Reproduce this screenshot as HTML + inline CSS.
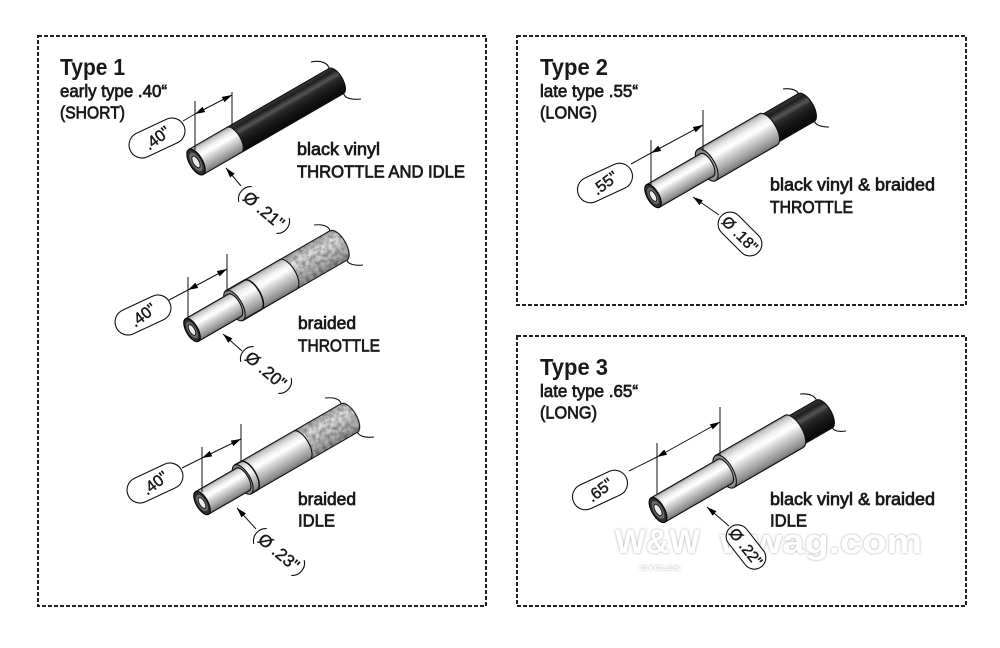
<!DOCTYPE html>
<html><head><meta charset="utf-8"><style>
html,body{margin:0;padding:0;background:#fff;}
svg{display:block;}
text{font-family:"Liberation Sans",sans-serif;fill:#1a1a1a;}
</style></head><body>
<svg width="1000" height="648" viewBox="0 0 1000 648" xmlns="http://www.w3.org/2000/svg">
<defs>
 <linearGradient id="sv" x1="0" y1="0" x2="0" y2="1">
  <stop offset="0" stop-color="#8c8c8c"/><stop offset="0.08" stop-color="#c8c8c8"/>
  <stop offset="0.25" stop-color="#f2f2f2"/><stop offset="0.38" stop-color="#ffffff"/>
  <stop offset="0.55" stop-color="#d6d6d6"/><stop offset="0.78" stop-color="#a8a8a8"/>
  <stop offset="0.92" stop-color="#8a8a8a"/><stop offset="1" stop-color="#666"/>
 </linearGradient>
 <linearGradient id="bk" x1="0" y1="0" x2="0" y2="1">
  <stop offset="0" stop-color="#3a3a3a"/><stop offset="0.15" stop-color="#1e1e1e"/>
  <stop offset="0.32" stop-color="#555"/><stop offset="0.45" stop-color="#2a2a2a"/>
  <stop offset="0.7" stop-color="#151515"/><stop offset="1" stop-color="#080808"/>
 </linearGradient>
 <linearGradient id="br" x1="0" y1="0" x2="0" y2="1">
  <stop offset="0" stop-color="#a0a0a0"/><stop offset="0.25" stop-color="#e4e4e4"/>
  <stop offset="0.5" stop-color="#d0d0d0"/><stop offset="0.8" stop-color="#aaaaaa"/>
  <stop offset="1" stop-color="#888"/>
 </linearGradient>
 <linearGradient id="fc" x1="0" y1="0" x2="0" y2="1">
  <stop offset="0" stop-color="#7a7a7a"/><stop offset="0.45" stop-color="#b4b4b4"/>
  <stop offset="1" stop-color="#8a8a8a"/>
 </linearGradient>
 <filter id="nz" x="-0.05" y="-0.1" width="1.1" height="1.2" color-interpolation-filters="sRGB">
  <feTurbulence type="fractalNoise" baseFrequency="0.25" numOctaves="3" seed="5" result="t"/>
  <feColorMatrix in="t" type="matrix" values="0.45 0.45 0 0 0.42  0.45 0.45 0 0 0.42  0.45 0.45 0 0 0.42  0 0 0 0 1" result="g"/>
  <feComposite in="g" in2="SourceGraphic" operator="in" result="gi"/>
  <feBlend in="gi" in2="SourceGraphic" mode="multiply"/>
 </filter>
 <filter id="ws" x="-0.1" y="-0.3" width="1.2" height="1.6">
  <feDropShadow dx="0" dy="0" stdDeviation="1.4" flood-color="#8a8a8a" flood-opacity="0.8"/>
 </filter>
 <marker id="ah" viewBox="0 0 10 6" refX="10" refY="3" markerWidth="10" markerHeight="6" markerUnits="userSpaceOnUse" orient="auto-start-reverse">
  <path d="M0,0 L10,3 L0,6 Z" fill="#000"/>
 </marker>
</defs>

<!-- frames -->
<g fill="none" stroke="#222" stroke-width="2" stroke-dasharray="4 2">
 <rect x="38" y="36" width="448" height="570"/>
 <rect x="517" y="36" width="449" height="269"/>
 <rect x="517" y="336" width="449" height="270"/>
</g>

<!-- Type1 A -->
<g transform="translate(196,162) rotate(-30)" stroke="#111" stroke-width="1.1">
 <path d="M44,-14.5 L162,-14.5 A6.5,14.5 0 0 1 162,14.5 L44,14.5 Z" fill="url(#bk)"/>
 <path d="M0,-14.5 L44,-14.5 A6.5,14.5 0 0 1 44,14.5 L0,14.5 Z" fill="url(#sv)"/>
 <ellipse rx="6.5" ry="14.5" fill="#2e2e2e" stroke="#000"/>
 <ellipse rx="4.7" ry="10.4" fill="#6a6a6a" stroke="none"/>
 <ellipse rx="3" ry="6.5" fill="#ececec" stroke="#1a1a1a" stroke-width="1"/>
</g>
<g fill="none" stroke="#111" stroke-width="1.1">
 <path d="M311,62 C321,60 328,63 329,68.4"/>
 <path d="M343.6,93.6 C345,98 351,100 361,99"/>
</g>

<!-- Type1 B -->
<g transform="translate(192,330) rotate(-30)" stroke="#111" stroke-width="1.1">
 <path d="M111,-17 L169,-17 A7.65,17 0 0 1 169,17 L111,17 Z" fill="url(#br)" filter="url(#nz)"/>
 <path d="M70,-17 L111,-17 A7.65,17 0 0 1 111,17 L70,17 Z" fill="url(#sv)"/>
 <path d="M49,-17 L70,-17 A7.65,17 0 0 1 70,17 L49,17 Z" fill="url(#sv)" stroke-width="1.6"/>
 <ellipse cx="49" rx="7.65" ry="17" fill="url(#fc)"/>
 <path d="M0,-13 L49,-13 A5.85,13 0 0 1 49,13 L0,13 Z" fill="url(#sv)"/>
 <ellipse rx="5.85" ry="13" fill="#2e2e2e" stroke="#000"/>
 <ellipse rx="4.2" ry="9.3" fill="#6a6a6a" stroke="none"/>
 <ellipse rx="2.7" ry="6" fill="#ececec" stroke="#1a1a1a" stroke-width="1"/>
</g>
<g fill="none" stroke="#111" stroke-width="1.1">
 <path d="M314,225 C323,224 329,226 329.9,230.8"/>
 <path d="M346.9,260.2 C348,264 354,266 363,265"/>
</g>

<!-- Type1 C -->
<g transform="translate(202,503) rotate(-30)" stroke="#111" stroke-width="1.1">
 <path d="M115,-16.5 L170,-16.5 A7.4,16.5 0 0 1 170,16.5 L115,16.5 Z" fill="url(#br)" filter="url(#nz)"/>
 <path d="M54,-16.5 L115,-16.5 A7.4,16.5 0 0 1 115,16.5 L54,16.5 Z" fill="url(#sv)"/>
 <path d="M47,-16.5 L54,-16.5 A7.4,16.5 0 0 1 54,16.5 L47,16.5 Z" fill="url(#sv)" stroke-width="1.5"/>
 <ellipse cx="47" rx="7.4" ry="16.5" fill="url(#fc)"/>
 <path d="M0,-13 L47,-13 A5.85,13 0 0 1 47,13 L0,13 Z" fill="url(#sv)"/>
 <ellipse rx="5.85" ry="13" fill="#2e2e2e" stroke="#000"/>
 <ellipse rx="4.2" ry="9.3" fill="#6a6a6a" stroke="none"/>
 <ellipse rx="2.7" ry="6" fill="#ececec" stroke="#1a1a1a" stroke-width="1"/>
</g>
<g fill="none" stroke="#111" stroke-width="1.1">
 <path d="M325,398 C334,397 340,399 341,403.7"/>
 <path d="M357.5,432.3 C359,436 365,438 374,437"/>
</g>

<!-- Type2 -->
<g transform="translate(653,196) rotate(-30)" stroke="#111" stroke-width="1.1">
 <path d="M133,-16 L177,-16 A7.2,16 0 0 1 177,16 L133,16 Z" fill="url(#bk)"/>
 <path d="M62,-18 L133,-18 A8.1,18 0 0 1 133,18 L62,18 Z" fill="url(#sv)"/>
 <ellipse cx="62" rx="8.1" ry="18" fill="url(#fc)"/>
 <path d="M0,-13 L62,-13 A5.85,13 0 0 1 62,13 L0,13 Z" fill="url(#sv)"/>
 <ellipse rx="5.85" ry="13" fill="#2e2e2e" stroke="#000"/>
 <ellipse rx="4.2" ry="9.3" fill="#6a6a6a" stroke="none"/>
 <ellipse rx="2.7" ry="6" fill="#ececec" stroke="#1a1a1a" stroke-width="1"/>
</g>
<g fill="none" stroke="#111" stroke-width="1.1">
 <path d="M783,89 C791,88 797,90 798.3,93.6"/>
 <path d="M814.3,121.4 C816,125 821,127 829,127"/>
</g>

<!-- Type3 -->
<g transform="translate(658,510) rotate(-30)" stroke="#111" stroke-width="1.1">
 <path d="M157,-16 L192,-16 A7.2,16 0 0 1 192,16 L157,16 Z" fill="url(#bk)"/>
 <path d="M77,-18.5 L157,-18.5 A8.3,18.5 0 0 1 157,18.5 L77,18.5 Z" fill="url(#sv)"/>
 <ellipse cx="77" rx="8.3" ry="18.5" fill="url(#fc)"/>
 <path d="M0,-14 L77,-14 A6.3,14 0 0 1 77,14 L0,14 Z" fill="url(#sv)"/>
 <ellipse rx="6.3" ry="14" fill="#2e2e2e" stroke="#000"/>
 <ellipse rx="4.5" ry="10" fill="#6a6a6a" stroke="none"/>
 <ellipse rx="2.9" ry="6.4" fill="#ececec" stroke="#1a1a1a" stroke-width="1"/>
</g>
<g fill="none" stroke="#111" stroke-width="1.1">
 <path d="M800,394 C809,393 815,396 816.3,400.1"/>
 <path d="M832.3,427.9 C834,431 839,432 846,431"/>
</g>

<!-- dimension lines -->
<g stroke="#111" stroke-width="1" fill="none">
 <line x1="195" y1="101" x2="195" y2="150"/><line x1="232" y1="92" x2="232" y2="126"/>
 <line x1="195" y1="114" x2="232" y2="95" marker-start="url(#ah)" marker-end="url(#ah)"/>
 <line x1="195" y1="114" x2="183" y2="121"/>
 <line x1="241" y1="186" x2="226" y2="168" marker-end="url(#ah)"/>

 <line x1="188" y1="277" x2="188" y2="320"/><line x1="227" y1="254" x2="227" y2="292"/>
 <line x1="188" y1="290" x2="227" y2="269" marker-start="url(#ah)" marker-end="url(#ah)"/>
 <line x1="188" y1="290" x2="169" y2="300"/>
 <line x1="242" y1="351" x2="223" y2="334" marker-end="url(#ah)"/>

 <line x1="202" y1="447" x2="202" y2="492"/><line x1="241" y1="424" x2="241" y2="462"/>
 <line x1="202" y1="458" x2="241" y2="439" marker-start="url(#ah)" marker-end="url(#ah)"/>
 <line x1="202" y1="458" x2="182" y2="468"/>
 <line x1="256" y1="529" x2="237" y2="508" marker-end="url(#ah)"/>

 <line x1="651" y1="140" x2="651" y2="186"/><line x1="703" y1="110" x2="703" y2="151"/>
 <line x1="651" y1="153" x2="703" y2="125" marker-start="url(#ah)" marker-end="url(#ah)"/>
 <line x1="651" y1="153" x2="631" y2="164"/>
 <line x1="719" y1="215" x2="693" y2="197" marker-end="url(#ah)"/>

 <line x1="657" y1="443" x2="657" y2="494"/><line x1="720" y1="407" x2="720" y2="455"/>
 <line x1="657" y1="457" x2="720" y2="422" marker-start="url(#ah)" marker-end="url(#ah)"/>
 <line x1="657" y1="457" x2="629" y2="471"/>
 <line x1="729" y1="526" x2="707" y2="507" marker-end="url(#ah)"/>
</g>

<!-- length pills -->
<g font-size="16" text-anchor="middle">
 <g transform="translate(157,138) rotate(-25)"><rect x="-29.5" y="-13" width="59" height="26" rx="13" fill="#fff" stroke="#111" stroke-width="1.1"/><text x="0" y="5.5" transform="rotate(-12)" stroke="#1a1a1a" stroke-width="0.45">.40"</text></g>
 <g transform="translate(143,315) rotate(-25)"><rect x="-29.5" y="-13" width="59" height="26" rx="13" fill="#fff" stroke="#111" stroke-width="1.1"/><text x="0" y="5.5" transform="rotate(-12)" stroke="#1a1a1a" stroke-width="0.45">.40"</text></g>
 <g transform="translate(155,483) rotate(-25)"><rect x="-29.5" y="-13" width="59" height="26" rx="13" fill="#fff" stroke="#111" stroke-width="1.1"/><text x="0" y="5.5" transform="rotate(-12)" stroke="#1a1a1a" stroke-width="0.45">.40"</text></g>
 <g transform="translate(605,183) rotate(-25)"><rect x="-29" y="-13" width="58" height="26" rx="13" fill="#fff" stroke="#111" stroke-width="1.1"/><text x="0" y="5.5" transform="rotate(-12)" stroke="#1a1a1a" stroke-width="0.45">.55"</text></g>
 <g transform="translate(600,490) rotate(-25)"><rect x="-29" y="-13" width="58" height="26" rx="13" fill="#fff" stroke="#111" stroke-width="1.1"/><text x="0" y="5.5" transform="rotate(-12)" stroke="#1a1a1a" stroke-width="0.45">.65"</text></g>
</g>

<!-- diameter labels type 1 -->
<g font-size="17" text-anchor="middle" fill="none">
 <g transform="translate(264,210) rotate(40)"><path d="M-24.5,-10 A12.5,12.5 0 0 0 -24.5,10 M24.5,-10 A12.5,12.5 0 0 1 24.5,10" stroke="#111" stroke-width="1.1"/><text x="0" y="6" stroke="#1a1a1a" stroke-width="0.45">Ø .21"</text></g>
 <g transform="translate(266,370) rotate(40)"><path d="M-24.5,-10 A12.5,12.5 0 0 0 -24.5,10 M24.5,-10 A12.5,12.5 0 0 1 24.5,10" stroke="#111" stroke-width="1.1"/><text x="0" y="6" stroke="#1a1a1a" stroke-width="0.45">Ø .20"</text></g>
 <g transform="translate(279,552) rotate(40)"><path d="M-24.5,-10 A12.5,12.5 0 0 0 -24.5,10 M24.5,-10 A12.5,12.5 0 0 1 24.5,10" stroke="#111" stroke-width="1.1"/><text x="0" y="6" stroke="#1a1a1a" stroke-width="0.45">Ø .23"</text></g>
</g>
<g font-size="15.5" text-anchor="middle">
 <g transform="translate(740,234) rotate(45)"><rect x="-26" y="-12" width="52" height="24" rx="12" fill="#fff" stroke="#111" stroke-width="1.1"/><text x="0" y="5.5" stroke="#1a1a1a" stroke-width="0.45">Ø .18"</text></g>
</g>

<!-- headings and labels -->
<g font-size="17.5" stroke="#1a1a1a" stroke-width="0.75">
 <text x="60" y="75" font-size="23" font-weight="bold" textLength="65" lengthAdjust="spacingAndGlyphs" stroke="none">Type 1</text>
 <text x="60" y="97" textLength="107" lengthAdjust="spacingAndGlyphs">early type .40“</text>
 <text x="60" y="118.5" textLength="65" lengthAdjust="spacingAndGlyphs">(SHORT)</text>
 <text x="297" y="155" textLength="83" lengthAdjust="spacingAndGlyphs">black vinyl</text>
 <text x="297" y="177.5" textLength="168" lengthAdjust="spacingAndGlyphs">THROTTLE AND IDLE</text>
 <text x="298" y="329" textLength="58" lengthAdjust="spacingAndGlyphs">braided</text>
 <text x="298" y="351.5" textLength="82" lengthAdjust="spacingAndGlyphs">THROTTLE</text>
 <text x="298" y="505" textLength="58" lengthAdjust="spacingAndGlyphs">braided</text>
 <text x="298" y="526.5" textLength="37" lengthAdjust="spacingAndGlyphs">IDLE</text>

 <text x="540" y="75" font-size="23" font-weight="bold" textLength="68" lengthAdjust="spacingAndGlyphs" stroke="none">Type 2</text>
 <text x="540" y="97" textLength="98" lengthAdjust="spacingAndGlyphs">late type .55“</text>
 <text x="540" y="118.5" textLength="57" lengthAdjust="spacingAndGlyphs">(LONG)</text>
 <text x="770" y="190.5" textLength="165" lengthAdjust="spacingAndGlyphs">black vinyl &amp; braided</text>
 <text x="770" y="213" textLength="83" lengthAdjust="spacingAndGlyphs">THROTTLE</text>

 <text x="540" y="375" font-size="23" font-weight="bold" textLength="68" lengthAdjust="spacingAndGlyphs" stroke="none">Type 3</text>
 <text x="540" y="397" textLength="98" lengthAdjust="spacingAndGlyphs">late type .65“</text>
 <text x="540" y="418.5" textLength="57" lengthAdjust="spacingAndGlyphs">(LONG)</text>
 <text x="770" y="505" textLength="165" lengthAdjust="spacingAndGlyphs">black vinyl &amp; braided</text>
 <text x="770" y="526.5" textLength="37" lengthAdjust="spacingAndGlyphs">IDLE</text>
</g>

<!-- watermark -->
<g filter="url(#ws)" font-weight="bold">
 <text x="615" y="553" font-size="34" textLength="85" lengthAdjust="spacingAndGlyphs" style="fill:#fff">W&amp;W</text>
 <text x="720" y="553" font-size="34" textLength="202" lengthAdjust="spacingAndGlyphs" style="fill:#fff">wwag.com</text>
 <text x="640" y="570" font-size="6" textLength="40" lengthAdjust="spacingAndGlyphs" style="fill:#fff">CYCLES</text>
</g>

<!-- type 3 diameter pill on top -->
<g font-size="15.5" text-anchor="middle">
 <g transform="translate(746,547) rotate(52)"><rect x="-25" y="-11.5" width="50" height="23" rx="11.5" fill="#fff" stroke="#111" stroke-width="1.1"/><text x="0" y="5.5" stroke="#1a1a1a" stroke-width="0.45">Ø .22"</text></g>
</g>
</svg>
</body></html>
